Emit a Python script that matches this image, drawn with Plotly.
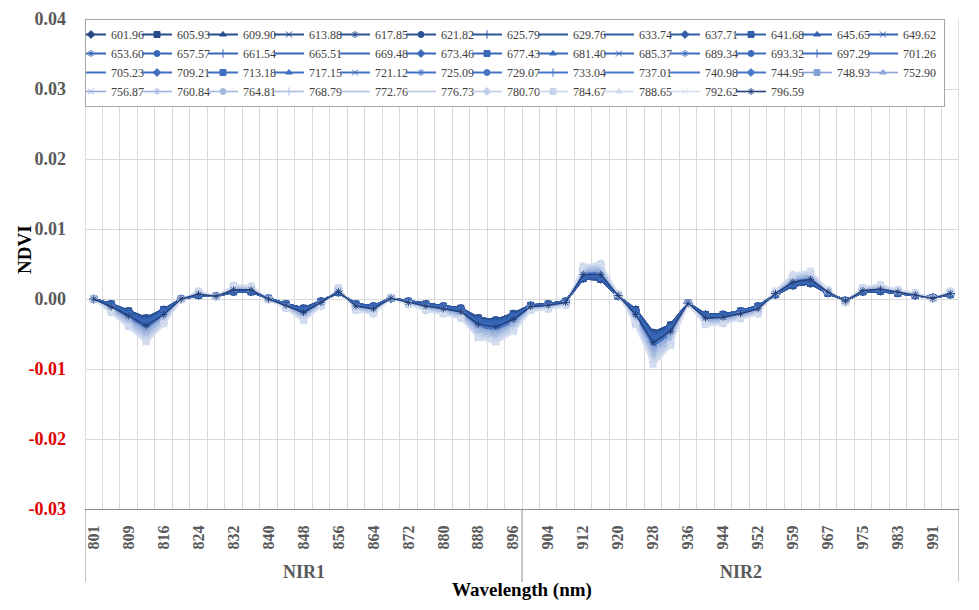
import plotly.graph_objects as go

# ---------------- data ----------------
# NIR wavelength categories (nm), two bands of 25
wavelength_labels = ["801", "805", "809", "813", "816", "820", "824", "828", "832", "836",
                     "840", "844", "848", "852", "856", "860", "864", "868", "872", "876",
                     "880", "884", "888", "892", "896",
                     "900", "904", "908", "912", "916", "920", "924", "928", "932", "936",
                     "940", "944", "948", "952", "955", "959", "963", "967", "971", "975",
                     "979", "983", "987", "991", "995"]
band_names = ["NIR1", "NIR2"]
y_tick_values = [-0.03, -0.02, -0.01, 0.00, 0.01, 0.02, 0.03, 0.04]
y_tick_labels = ["-0.03", "-0.02", "-0.01", "0.00", "0.01", "0.02", "0.03", "0.04"]

series_names = ["601.96", "605.93", "609.90", "613.88", "617.85", "621.82", "625.79", "629.76",
                "633.74", "637.71", "641.68", "645.65", "649.62", "653.60", "657.57", "661.54",
                "665.51", "669.48", "673.46", "677.43", "681.40", "685.37", "689.34", "693.32",
                "697.29", "701.26", "705.23", "709.21", "713.18", "717.15", "721.12", "725.09",
                "729.07", "733.04", "737.01", "740.98", "744.95", "748.93", "752.90", "756.87",
                "760.84", "764.81", "768.79", "772.76", "776.73", "780.70", "784.67", "788.65",
                "792.62", "796.59"]

# NDVI values in units of 1e-4
ndvi_601_96 = [0,-7,-17,-27,-15,0,5,4,10,10,1,-7,-13,-3,9,-7,-10,1,-3,-7,-10,-13,-27,-30,-21,-9,-7,-3,29,28,4,-15,-48,-37,-6,-22,-22,-17,-10,6,19,22,8,-2,10,11,8,5,2,6]
ndvi_605_93 = [0,-7,-17,-27,-15,0,5,4,10,10,1,-7,-13,-3,9,-7,-10,1,-3,-7,-10,-13,-27,-30,-21,-9,-7,-3,29,28,4,-15,-48,-37,-6,-22,-22,-17,-10,6,19,22,8,-2,10,11,8,5,2,6]
ndvi_609_90 = [0,-7,-17,-27,-15,0,5,4,10,10,1,-7,-13,-3,9,-7,-10,1,-3,-7,-10,-13,-27,-30,-21,-9,-7,-3,29,28,4,-15,-48,-37,-6,-22,-22,-17,-10,6,19,22,8,-2,10,11,8,5,2,6]
ndvi_613_88 = [0,-7,-17,-27,-15,0,5,4,10,10,1,-7,-13,-3,9,-7,-10,1,-3,-7,-10,-13,-27,-30,-21,-9,-7,-3,29,28,4,-15,-48,-37,-6,-22,-22,-17,-10,6,19,22,8,-2,10,11,8,5,2,6]
ndvi_617_85 = [0,-7,-17,-27,-15,0,5,4,10,10,1,-7,-13,-3,9,-7,-10,1,-3,-7,-10,-13,-27,-30,-21,-9,-7,-3,29,28,4,-15,-48,-37,-6,-22,-22,-17,-10,6,19,22,8,-2,10,11,8,5,2,6]
ndvi_621_82 = [0,-7,-17,-27,-15,0,5,4,10,10,1,-7,-13,-3,9,-7,-10,1,-3,-7,-10,-13,-27,-30,-21,-9,-7,-3,29,28,4,-15,-48,-37,-6,-22,-22,-17,-10,6,19,22,8,-2,10,11,8,5,2,6]
ndvi_625_79 = [0,-8,-19,-31,-17,0,6,4,11,11,1,-8,-15,-4,10,-8,-11,1,-4,-8,-11,-15,-30,-33,-24,-10,-8,-4,31,30,4,-17,-53,-40,-6,-24,-23,-18,-11,7,21,24,9,-2,11,12,9,5,2,7]
ndvi_629_76 = [0,-8,-19,-31,-17,0,6,4,11,11,1,-8,-15,-4,10,-8,-11,1,-4,-8,-11,-15,-30,-33,-24,-10,-8,-4,31,30,4,-17,-53,-40,-6,-24,-23,-18,-11,7,21,24,9,-2,11,12,9,5,2,7]
ndvi_633_74 = [0,-8,-19,-31,-17,0,6,4,11,11,1,-8,-15,-4,10,-8,-11,1,-4,-8,-11,-15,-30,-33,-24,-10,-8,-4,31,30,4,-17,-53,-40,-6,-24,-23,-18,-11,7,21,24,9,-2,11,12,9,5,2,7]
ndvi_637_71 = [0,-8,-19,-31,-17,0,6,4,11,11,1,-8,-15,-4,10,-8,-11,1,-4,-8,-11,-15,-30,-33,-24,-10,-8,-4,31,30,4,-17,-53,-40,-6,-24,-23,-18,-11,7,21,24,9,-2,11,12,9,5,2,7]
ndvi_641_68 = [0,-8,-19,-31,-17,0,6,4,11,11,1,-8,-15,-4,10,-8,-11,1,-4,-8,-11,-15,-30,-33,-24,-10,-8,-4,31,30,4,-17,-53,-40,-6,-24,-23,-18,-11,7,21,24,9,-2,11,12,9,5,2,7]
ndvi_645_65 = [0,-8,-19,-31,-17,0,6,4,11,11,1,-8,-15,-4,10,-8,-11,1,-4,-8,-11,-15,-30,-33,-24,-10,-8,-4,31,30,4,-17,-53,-40,-6,-24,-23,-18,-11,7,21,24,9,-2,11,12,9,5,2,7]
ndvi_649_62 = [0,-8,-19,-31,-17,0,6,4,11,11,1,-8,-15,-4,10,-8,-11,1,-4,-8,-11,-15,-30,-33,-24,-10,-8,-4,31,30,4,-17,-53,-40,-6,-24,-23,-18,-11,7,21,24,9,-2,11,12,9,5,2,7]
ndvi_653_60 = [0,-10,-22,-34,-19,0,6,4,12,12,1,-8,-17,-5,11,-9,-12,1,-4,-9,-12,-16,-33,-37,-26,-11,-9,-4,33,33,5,-20,-57,-43,-6,-25,-25,-19,-12,7,22,26,9,-3,11,13,9,6,2,7]
ndvi_657_57 = [0,-10,-22,-34,-19,0,6,4,12,12,1,-8,-17,-5,11,-9,-12,1,-4,-9,-12,-16,-33,-37,-26,-11,-9,-4,33,33,5,-20,-57,-43,-6,-25,-25,-19,-12,7,22,26,9,-3,11,13,9,6,2,7]
ndvi_661_54 = [0,-10,-22,-34,-19,0,6,4,12,12,1,-8,-17,-5,11,-9,-12,1,-4,-9,-12,-16,-33,-37,-26,-11,-9,-4,33,33,5,-20,-57,-43,-6,-25,-25,-19,-12,7,22,26,9,-3,11,13,9,6,2,7]
ndvi_665_51 = [0,-10,-22,-34,-19,0,6,4,12,12,1,-8,-17,-5,11,-9,-12,1,-4,-9,-12,-16,-33,-37,-26,-11,-9,-4,33,33,5,-20,-57,-43,-6,-25,-25,-19,-12,7,22,26,9,-3,11,13,9,6,2,7]
ndvi_669_48 = [0,-10,-22,-34,-19,0,6,4,12,12,1,-8,-17,-5,11,-9,-12,1,-4,-9,-12,-16,-33,-37,-26,-11,-9,-4,33,33,5,-20,-57,-43,-6,-25,-25,-19,-12,7,22,26,9,-3,11,13,9,6,2,7]
ndvi_673_46 = [0,-10,-22,-34,-19,0,6,4,12,12,1,-8,-17,-5,11,-9,-12,1,-4,-9,-12,-16,-33,-37,-26,-11,-9,-4,33,33,5,-20,-57,-43,-6,-25,-25,-19,-12,7,22,26,9,-3,11,13,9,6,2,7]
ndvi_677_43 = [0,-10,-22,-34,-19,0,6,4,12,12,1,-8,-17,-5,11,-9,-12,1,-4,-9,-12,-16,-33,-37,-26,-11,-9,-4,33,33,5,-20,-57,-43,-6,-25,-25,-19,-12,7,22,26,9,-3,11,13,9,6,2,7]
ndvi_681_40 = [0,-11,-24,-38,-22,0,7,4,13,13,0,-9,-19,-5,11,-10,-14,1,-5,-10,-14,-18,-36,-40,-29,-11,-9,-5,35,35,5,-22,-62,-46,-6,-27,-26,-21,-14,8,24,28,10,-3,12,14,10,6,1,8]
ndvi_685_37 = [0,-11,-24,-38,-22,0,7,4,13,13,0,-9,-19,-5,11,-10,-14,1,-5,-10,-14,-18,-36,-40,-29,-11,-9,-5,35,35,5,-22,-62,-46,-6,-27,-26,-21,-14,8,24,28,10,-3,12,14,10,6,1,8]
ndvi_689_34 = [0,-11,-24,-38,-22,0,7,4,13,13,0,-9,-19,-5,11,-10,-14,1,-5,-10,-14,-18,-36,-40,-29,-11,-9,-5,35,35,5,-22,-62,-46,-6,-27,-26,-21,-14,8,24,28,10,-3,12,14,10,6,1,8]
ndvi_693_32 = [0,-11,-24,-38,-22,0,7,4,13,13,0,-9,-19,-5,11,-10,-14,1,-5,-10,-14,-18,-36,-40,-29,-11,-9,-5,35,35,5,-22,-62,-46,-6,-27,-26,-21,-14,8,24,28,10,-3,12,14,10,6,1,8]
ndvi_697_29 = [0,-11,-24,-38,-22,0,7,4,13,13,0,-9,-19,-5,11,-10,-14,1,-5,-10,-14,-18,-36,-40,-29,-11,-9,-5,35,35,5,-22,-62,-46,-6,-27,-26,-21,-14,8,24,28,10,-3,12,14,10,6,1,8]
ndvi_701_26 = [0,-11,-24,-38,-22,0,7,4,13,13,0,-9,-19,-5,11,-10,-14,1,-5,-10,-14,-18,-36,-40,-29,-11,-9,-5,35,35,5,-22,-62,-46,-6,-27,-26,-21,-14,8,24,28,10,-3,12,14,10,6,1,8]
ndvi_705_23 = [0,-11,-24,-38,-22,0,7,4,13,13,0,-9,-19,-5,11,-10,-14,1,-5,-10,-14,-18,-36,-40,-29,-11,-9,-5,35,35,5,-22,-62,-46,-6,-27,-26,-21,-14,8,24,28,10,-3,12,14,10,6,1,8]
ndvi_709_21 = [0,-12,-27,-41,-24,0,8,4,14,14,0,-10,-21,-6,12,-11,-15,1,-5,-11,-15,-19,-39,-43,-32,-12,-10,-6,37,38,5,-24,-67,-49,-6,-28,-28,-22,-15,8,26,30,10,-3,13,15,10,7,1,8]
ndvi_713_18 = [0,-12,-27,-41,-24,0,8,4,14,14,0,-10,-21,-6,12,-11,-15,1,-5,-11,-15,-19,-39,-43,-32,-12,-10,-6,37,38,5,-24,-67,-49,-6,-28,-28,-22,-15,8,26,30,10,-3,13,15,10,7,1,8]
ndvi_717_15 = [0,-12,-27,-41,-24,0,8,4,14,14,0,-10,-21,-6,12,-11,-15,1,-5,-11,-15,-19,-39,-43,-32,-12,-10,-6,37,38,5,-24,-67,-49,-6,-28,-28,-22,-15,8,26,30,10,-3,13,15,10,7,1,8]
ndvi_721_12 = [0,-12,-27,-41,-24,0,8,4,14,14,0,-10,-21,-6,12,-11,-15,1,-5,-11,-15,-19,-39,-43,-32,-12,-10,-6,37,38,5,-24,-67,-49,-6,-28,-28,-22,-15,8,26,30,10,-3,13,15,10,7,1,8]
ndvi_725_09 = [0,-12,-27,-41,-24,0,8,4,14,14,0,-10,-21,-6,12,-11,-15,1,-5,-11,-15,-19,-39,-43,-32,-12,-10,-6,37,38,5,-24,-67,-49,-6,-28,-28,-22,-15,8,26,30,10,-3,13,15,10,7,1,8]
ndvi_729_07 = [0,-12,-27,-41,-24,0,8,4,14,14,0,-10,-21,-6,12,-11,-15,1,-5,-11,-15,-19,-39,-43,-32,-12,-10,-6,37,38,5,-24,-67,-49,-6,-28,-28,-22,-15,8,26,30,10,-3,13,15,10,7,1,8]
ndvi_733_04 = [0,-12,-27,-41,-24,0,8,4,14,14,0,-10,-21,-6,12,-11,-15,1,-5,-11,-15,-19,-39,-43,-32,-12,-10,-6,37,38,5,-24,-67,-49,-6,-28,-28,-22,-15,8,26,30,10,-3,13,15,10,7,1,8]
ndvi_737_01 = [0,-12,-27,-41,-24,0,8,4,14,14,0,-10,-21,-6,12,-11,-15,1,-5,-11,-15,-19,-39,-43,-32,-12,-10,-6,37,38,5,-24,-67,-49,-6,-28,-28,-22,-15,8,26,30,10,-3,13,15,10,7,1,8]
ndvi_740_98 = [0,-12,-27,-41,-24,0,8,4,14,14,0,-10,-21,-6,12,-11,-15,1,-5,-11,-15,-19,-39,-43,-32,-12,-10,-6,37,38,5,-24,-67,-49,-6,-28,-28,-22,-15,8,26,30,10,-3,13,15,10,7,1,8]
ndvi_744_95 = [0,-12,-27,-41,-24,0,8,4,14,14,0,-10,-21,-6,12,-11,-15,1,-5,-11,-15,-19,-39,-43,-32,-12,-10,-6,37,38,5,-24,-67,-49,-6,-28,-28,-22,-15,8,26,30,10,-3,13,15,10,7,1,8]
ndvi_748_93 = [0,-13,-29,-45,-26,0,9,4,15,15,0,-11,-23,-7,13,-12,-16,1,-6,-12,-16,-21,-42,-47,-35,-13,-11,-7,39,40,6,-27,-72,-53,-6,-30,-29,-23,-16,9,28,32,11,-4,14,16,11,7,1,9]
ndvi_752_90 = [0,-13,-29,-45,-26,0,9,4,15,15,0,-11,-23,-7,13,-12,-16,1,-6,-12,-16,-21,-42,-47,-35,-13,-11,-7,39,40,6,-27,-72,-53,-6,-30,-29,-23,-16,9,28,32,11,-4,14,16,11,7,1,9]
ndvi_756_87 = [0,-15,-31,-49,-28,-1,9,3,16,15,0,-11,-24,-8,14,-13,-17,2,-6,-13,-17,-22,-45,-50,-37,-14,-12,-7,40,42,6,-29,-76,-56,-7,-32,-30,-24,-17,10,29,33,11,-4,14,17,11,7,1,10]
ndvi_760_84 = [0,-15,-31,-49,-28,-1,9,3,16,15,0,-11,-24,-8,14,-13,-17,2,-6,-13,-17,-22,-45,-50,-37,-14,-12,-7,40,42,6,-29,-76,-56,-7,-32,-30,-24,-17,10,29,33,11,-4,14,17,11,7,1,10]
ndvi_764_81 = [0,-16,-34,-52,-30,-1,10,3,17,16,0,-12,-26,-9,15,-14,-18,2,-7,-14,-18,-24,-48,-53,-40,-15,-13,-8,42,45,6,-31,-81,-59,-7,-33,-32,-25,-18,10,31,35,12,-4,15,18,12,8,1,10]
ndvi_768_79 = [0,-16,-34,-52,-30,-1,10,3,17,16,0,-12,-26,-9,15,-14,-18,2,-7,-14,-18,-24,-48,-53,-40,-15,-13,-8,42,45,6,-31,-81,-59,-7,-33,-32,-25,-18,10,31,35,12,-4,15,18,12,8,1,10]
ndvi_772_76 = [0,-17,-36,-56,-33,-1,11,3,18,17,-1,-13,-28,-9,15,-15,-20,2,-7,-15,-20,-25,-51,-56,-43,-15,-13,-9,44,47,6,-33,-86,-62,-7,-35,-33,-27,-20,11,33,37,12,-4,16,19,12,8,0,11]
ndvi_776_73 = [0,-17,-36,-56,-33,-1,11,3,18,17,-1,-13,-28,-9,15,-15,-20,2,-7,-15,-20,-25,-51,-56,-43,-15,-13,-9,44,47,6,-33,-86,-62,-7,-35,-33,-27,-20,11,33,37,12,-4,16,19,12,8,0,11]
ndvi_780_70 = [0,-19,-39,-59,-35,-1,11,3,19,18,-1,-13,-30,-10,16,-16,-21,2,-8,-16,-21,-27,-54,-60,-45,-16,-14,-9,46,50,7,-36,-90,-65,-7,-36,-35,-28,-21,11,34,39,13,-5,16,20,13,9,0,11]
ndvi_784_67 = [0,-19,-39,-59,-35,-1,11,3,19,18,-1,-13,-30,-10,16,-16,-21,2,-8,-16,-21,-27,-54,-60,-45,-16,-14,-9,46,50,7,-36,-90,-65,-7,-36,-35,-28,-21,11,34,39,13,-5,16,20,13,9,0,11]
ndvi_788_65 = [0,-20,-41,-63,-37,-1,12,3,20,19,-1,-14,-32,-11,17,-17,-22,2,-8,-17,-22,-28,-57,-63,-48,-17,-15,-10,48,52,7,-38,-95,-68,-7,-38,-36,-29,-22,12,36,41,13,-5,17,21,13,9,0,12]
ndvi_792_62 = [0,-20,-41,-63,-37,-1,12,3,20,19,-1,-14,-32,-11,17,-17,-22,2,-8,-17,-22,-28,-57,-63,-48,-17,-15,-10,48,52,7,-38,-95,-68,-7,-38,-36,-29,-22,12,36,41,13,-5,17,21,13,9,0,12]
ndvi_796_59 = [0,-11,-24,-38,-22,0,7,4,13,13,0,-9,-19,-5,11,-10,-14,1,-5,-10,-14,-18,-36,-40,-29,-11,-9,-5,35,35,5,-22,-62,-46,-6,-27,-26,-21,-14,8,24,28,10,-3,12,14,10,6,1,8]

ndvi_series = [ndvi_601_96, ndvi_605_93, ndvi_609_90, ndvi_613_88, ndvi_617_85, ndvi_621_82,
               ndvi_625_79, ndvi_629_76, ndvi_633_74, ndvi_637_71, ndvi_641_68, ndvi_645_65,
               ndvi_649_62, ndvi_653_60, ndvi_657_57, ndvi_661_54, ndvi_665_51, ndvi_669_48,
               ndvi_673_46, ndvi_677_43, ndvi_681_40, ndvi_685_37, ndvi_689_34, ndvi_693_32,
               ndvi_697_29, ndvi_701_26, ndvi_705_23, ndvi_709_21, ndvi_713_18, ndvi_717_15,
               ndvi_721_12, ndvi_725_09, ndvi_729_07, ndvi_733_04, ndvi_737_01, ndvi_740_98,
               ndvi_744_95, ndvi_748_93, ndvi_752_90, ndvi_756_87, ndvi_760_84, ndvi_764_81,
               ndvi_768_79, ndvi_772_76, ndvi_776_73, ndvi_780_70, ndvi_784_67, ndvi_788_65,
               ndvi_792_62, ndvi_796_59]

# ---------------- styling ----------------
SERIF = "Liberation Serif, Times New Roman, serif"


def hex2rgb(h):
    h = h.lstrip("#")
    return tuple(int(h[i:i + 2], 16) for i in (0, 2, 4))


def mix(c0, c1, a):
    r0, g0, b0 = hex2rgb(c0)
    r1, g1, b1 = hex2rgb(c1)
    return "rgb(%d,%d,%d)" % (round(r0 + (r1 - r0) * a),
                              round(g0 + (g1 - g0) * a),
                              round(b0 + (b1 - b0) * a))


def series_color(k, n):
    if k == n - 1:
        return "#24427e"
    if k <= 12:
        return mix("#264886", "#3462b0", k / 12)
    if k <= 36:
        return mix("#3565b4", "#4876c6", (k - 13) / 23)
    return mix("#86a1d6", "#d6dff0", (k - 37) / 11)


marker_cycle = ["diamond", "square", "triangle-up", "x-thin-open", "asterisk-open",
                "circle", "cross-thin-open", "line-ew-open", None]

n = len(series_names)
fig = go.Figure()
for k, (name, vals) in enumerate(zip(series_names, ndvi_series)):
    color = series_color(k, n)
    sym = marker_cycle[k % len(marker_cycle)]
    fig.add_trace(go.Scatter(
        x=wavelength_labels,
        y=[v / 1e4 for v in vals],
        name=name,
        mode="lines+markers" if sym else "lines",
        line=dict(color=color, width=2 if k < 37 else 1.6),
        marker=dict(symbol=sym or "circle", size=6, color=color,
                    line=dict(color=color, width=1)),
    ))

ticktext_y = [("<span style='color:#e00000'>%s</span>" % t) if v < 0 else t
              for v, t in zip(y_tick_values, y_tick_labels)]
ticktext_x = [lab if i % 2 == 0 else "" for i, lab in enumerate(wavelength_labels)]

n_cat = len(wavelength_labels)
half = n_cat // 2
div_bottom = -0.149

# the page body adds an 8px offset, so the figure is laid out 8px smaller
fig.update_layout(
    width=971, height=602,
    margin=dict(l=77, r=20, t=11, b=101),
    paper_bgcolor="white", plot_bgcolor="white",
    font=dict(family=SERIF, color="#595959"),
    showlegend=True,
    legend=dict(orientation="h", x=0, y=1, xanchor="left", yanchor="top",
                bgcolor="white", bordercolor="#a6a6a6", borderwidth=1,
                font=dict(family=SERIF, size=12, color="#404040"),
                indentation=-15, entrywidth=36, entrywidthmode="pixels",
                tracegroupgap=0, traceorder="normal"),
    xaxis=dict(type="category", categoryorder="array", categoryarray=wavelength_labels,
               tickmode="array", tickvals=wavelength_labels, ticktext=ticktext_x,
               tickson="boundaries", ticks="", tickangle=-90,
               range=[-0.5, n_cat - 0.5], automargin=False,
               tickfont=dict(family=SERIF, size=16, color="#595959", weight="bold"),
               ticklabelstandoff=9,
               showgrid=True, gridcolor="#d9d9d9", gridwidth=1,
               showline=True, linecolor="#8c8c8c", linewidth=1, zeroline=False),
    yaxis=dict(range=[-0.03, 0.04], tickmode="array", tickvals=y_tick_values,
               ticktext=ticktext_y, ticks="", automargin=False,
               tickfont=dict(family=SERIF, size=18, color="#595959", weight="bold"),
               ticklabelstandoff=18,
               showgrid=True, gridcolor="#d9d9d9", gridwidth=1,
               showline=False, zeroline=False),
    hovermode=False,
)

# group dividers below the category axis
for xb in (-0.5, half - 0.5, n_cat - 0.5):
    fig.add_shape(type="line", xref="x", yref="paper", x0=xb, x1=xb,
                  y0=div_bottom, y1=0, line=dict(color="#8c8c8c", width=1))
for xb in (-0.5, n_cat - 0.5):
    fig.add_shape(type="line", xref="x", yref="paper", x0=xb, x1=xb,
                  y0=0, y1=1, line=dict(color="#bfbfbf", width=1), layer="below")

# group labels
for gi, gname in enumerate(band_names):
    fig.add_annotation(x=gi * half + (half - 1) / 2, xref="x", y=-0.1286, yref="paper",
                       xanchor="center", yanchor="middle",
                       text="<b>%s</b>" % gname, showarrow=False,
                       font=dict(family=SERIF, size=18, color="#595959"))

fig.add_annotation(x=0.5, xref="paper", y=-0.165, yref="paper",
                   xanchor="center", yanchor="middle",
                   text="<b>Wavelength (nm)</b>", showarrow=False,
                   font=dict(family=SERIF, size=19, color="#000000"))
fig.add_annotation(x=-0.0698, xref="paper", y=0.5306, yref="paper",
                   xanchor="center", yanchor="middle",
                   text="<b>NDVI</b>", showarrow=False, textangle=-90,
                   font=dict(family=SERIF, size=19, color="#000000"))

fig.write_html("out.html")
